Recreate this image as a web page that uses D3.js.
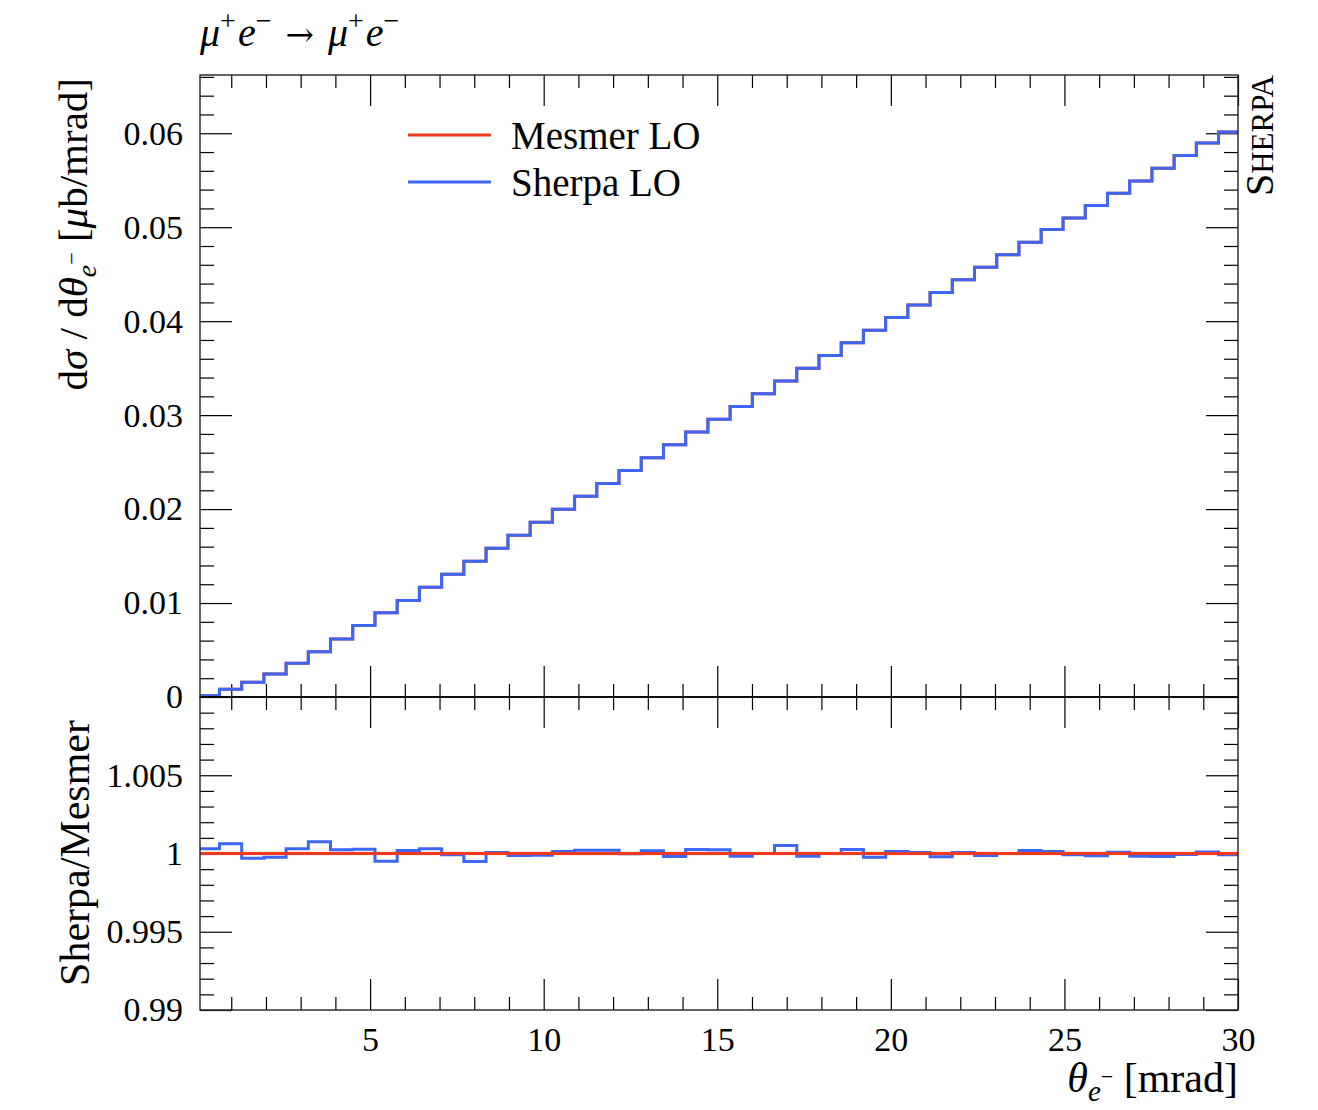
<!DOCTYPE html>
<html>
<head>
<meta charset="utf-8">
<script src="https://cdn.jsdelivr.net/npm/d3@7"></script>
<style>
  body { margin: 0; background: #fff; }
  svg text { font-family: "Liberation Serif", serif; fill: #000; }
  .axis path { display: none; }
  .axis line { stroke: #000; stroke-width: 1.2; }
  .axis text { font-family: "Liberation Serif", serif; font-size: 34px; }
</style>
</head>
<body>
<div id="chart"></div>
<script>
"use strict";

// bin edges in mrad (first and last bins are cut by the plot range)
var binEdges = [0.1, 0.66, 1.30, 1.94, 2.58, 3.22, 3.86, 4.50, 5.14, 5.78, 6.42, 7.06, 7.70,
    8.34, 8.97, 9.61, 10.25, 10.89, 11.53, 12.17, 12.81, 13.45, 14.09, 14.73, 15.37, 16.01,
    16.65, 17.29, 17.93, 18.57, 19.21, 19.85, 20.49, 21.13, 21.77, 22.41, 23.05, 23.69, 24.33,
    24.96, 25.60, 26.24, 26.88, 27.52, 28.16, 28.80, 29.44, 30.0];

var sherpaLO = [0.00014, 0.00082, 0.00156, 0.00245, 0.00358, 0.00482, 0.00617, 0.00762, 0.00897,
    0.01027, 0.01167, 0.01306, 0.01445, 0.01584, 0.01722, 0.0186, 0.01998, 0.02136, 0.02273,
    0.0241, 0.02547, 0.02684, 0.0282, 0.02956, 0.03092, 0.03228, 0.03364, 0.03499, 0.03634,
    0.03769, 0.03904, 0.04038, 0.04172, 0.04306, 0.0444, 0.04574, 0.04707, 0.0484, 0.04975,
    0.05099, 0.05231, 0.05362, 0.05493, 0.05628, 0.05763, 0.05897, 0.06014];

var mesmerLO = [0.00014, 0.00082, 0.00156, 0.00245, 0.00358, 0.00482, 0.00617, 0.00762, 0.00897,
    0.01027, 0.01167, 0.01306, 0.01445, 0.01584, 0.01722, 0.0186, 0.01998, 0.02136, 0.02273,
    0.0241, 0.02547, 0.02684, 0.0282, 0.02956, 0.03092, 0.03228, 0.03364, 0.03499, 0.03634,
    0.03769, 0.03904, 0.04038, 0.04172, 0.04306, 0.0444, 0.04574, 0.04707, 0.0484, 0.04975,
    0.05099, 0.05231, 0.05362, 0.05493, 0.05628, 0.05763, 0.05897, 0.06014];

// Sherpa / Mesmer
var ratio = [1.0003, 1.00062, 0.9997, 0.99976, 1.0003, 1.00075, 1.00024, 1.00027, 0.99951,
    1.00019, 1.0003, 0.99992, 0.99949, 1.00006, 0.99987, 0.99989, 1.00013, 1.0002, 1.0002,
    0.99998, 1.00017, 0.99981, 1.00025, 1.00024, 0.99983, 1.0, 1.00051, 0.99983, 1.0,
    1.00025, 0.99976, 1.00013, 1.00006, 0.99979, 1.00006, 0.99987, 1.0, 1.00019, 1.00013,
    0.99992, 0.99985, 1.00008, 0.99983, 0.99981, 0.99994, 1.0001, 0.99992];

var xMajor = [5, 10, 15, 20, 25, 30];
var xMinor = d3.range(1, 30).filter(function (v) { return v % 5 !== 0; });
var yMainMajor = [0, 0.01, 0.02, 0.03, 0.04, 0.05, 0.06];
var yMainLabels = ["0", "0.01", "0.02", "0.03", "0.04", "0.05", "0.06"];
var yRatioMajor = [0.99, 0.995, 1, 1.005];
var yRatioLabels = ["0.99", "0.995", "1", "1.005"];

var red = "#ee3a1c", blue = "#3d66f5";
var serif = "Liberation Serif, serif";

function renderChart() {
    var svg = d3.select("#chart").append("svg")
        .attr("width", 1318)
        .attr("height", 1110);

    var pLeft = 200, pRight = 1238, pTop = 75, pMid = 697, pBottom = 1010;

    var x = d3.scaleLinear().domain([0.1, 30]).range([pLeft, pRight]);
    var y = d3.scaleLinear().domain([0, 0.0662]).range([pMid, pTop]);
    var yr = d3.scaleLinear().domain([0.99, 1.01]).range([pBottom, pMid]);

    function histPoints(vals) {
        var pts = [];
        vals.forEach(function (v, i) {
            pts.push([binEdges[i], v]);
            pts.push([binEdges[i + 1], v]);
        });
        return pts;
    }

    function addAxis(axis, tx, ty) {
        var g = svg.append("g")
            .attr("class", "axis")
            .attr("transform", "translate(" + tx + "," + ty + ")")
            .call(axis);
        g.attr("font-family", serif).attr("font-size", 34);
        g.selectAll("text").attr("font-family", serif).style("font-family", serif);
    }

    var yMinor = d3.range(0, 0.0661, 0.002).filter(function (v) { return Math.abs(v / 0.01 - Math.round(v / 0.01)) > 1e-6; });
    var yrMinor = d3.range(0.991, 1.0095, 0.001).filter(function (v) { return Math.abs(v / 0.005 - Math.round(v / 0.005)) > 1e-6; });

    // main panel ticks
    addAxis(d3.axisLeft(y).tickValues(yMainMajor).tickSize(-32).tickPadding(17)
        .tickFormat(function (d, i) { return yMainLabels[i]; }), pLeft, 0);
    addAxis(d3.axisLeft(y).tickValues(yMinor).tickSize(-14).tickFormat(""), pLeft, 0);
    addAxis(d3.axisRight(y).tickValues(yMainMajor).tickSize(-32).tickFormat(""), pRight, 0);
    addAxis(d3.axisRight(y).tickValues(yMinor).tickSize(-14).tickFormat(""), pRight, 0);
    addAxis(d3.axisBottom(x).tickValues(xMajor).tickSize(-31).tickFormat(""), 0, pMid);
    addAxis(d3.axisBottom(x).tickValues(xMinor).tickSize(-13).tickFormat(""), 0, pMid);
    addAxis(d3.axisTop(x).tickValues(xMajor).tickSize(-31).tickFormat(""), 0, pTop);
    addAxis(d3.axisTop(x).tickValues(xMinor).tickSize(-13).tickFormat(""), 0, pTop);

    // ratio panel ticks
    addAxis(d3.axisLeft(yr).tickValues(yRatioMajor).tickSize(-32).tickPadding(17)
        .tickFormat(function (d, i) { return yRatioLabels[i]; }), pLeft, 0);
    addAxis(d3.axisLeft(yr).tickValues(yrMinor).tickSize(-14).tickFormat(""), pLeft, 0);
    addAxis(d3.axisRight(yr).tickValues(yRatioMajor).tickSize(-32).tickFormat(""), pRight, 0);
    addAxis(d3.axisRight(yr).tickValues(yrMinor).tickSize(-14).tickFormat(""), pRight, 0);
    addAxis(d3.axisTop(x).tickValues(xMajor).tickSize(-31).tickFormat(""), 0, pMid);
    addAxis(d3.axisTop(x).tickValues(xMinor).tickSize(-13).tickFormat(""), 0, pMid);
    addAxis(d3.axisBottom(x).tickValues(xMajor).tickSize(-31).tickPadding(17), 0, pBottom);
    addAxis(d3.axisBottom(x).tickValues(xMinor).tickSize(-13).tickFormat(""), 0, pBottom);

    // main panel histograms
    var line = d3.line()
        .x(function (d) { return x(d[0]); })
        .y(function (d) { return y(d[1]); });

    svg.append("path")
        .attr("d", line(histPoints(mesmerLO)))
        .attr("fill", "none").attr("stroke", red).attr("stroke-width", 3);
    svg.append("path")
        .attr("d", line(histPoints(sherpaLO)))
        .attr("fill", "none").attr("stroke", blue).attr("stroke-width", 3);

    // ratio panel
    var rline = d3.line()
        .x(function (d) { return x(d[0]); })
        .y(function (d) { return yr(d[1]); });

    svg.append("rect")
        .attr("x", x(0.1)).attr("width", x(30) - x(0.1))
        .attr("y", yr(1.00012)).attr("height", yr(0.99988) - yr(1.00012))
        .attr("fill", red).attr("opacity", 0.25);
    svg.append("path")
        .attr("d", rline(histPoints(ratio)))
        .attr("fill", "none").attr("stroke", blue).attr("stroke-width", 3);
    svg.append("line")
        .attr("x1", x(0.1)).attr("x2", x(30))
        .attr("y1", yr(1)).attr("y2", yr(1))
        .attr("stroke", red).attr("stroke-width", 3);

    // frames
    svg.append("rect")
        .attr("x", pLeft).attr("y", pTop).attr("width", pRight - pLeft).attr("height", pMid - pTop)
        .attr("fill", "none").attr("stroke", "#222").attr("stroke-width", 1.4);
    svg.append("rect")
        .attr("x", pLeft).attr("y", pMid).attr("width", pRight - pLeft).attr("height", pBottom - pMid)
        .attr("fill", "none").attr("stroke", "#222").attr("stroke-width", 1.4);
    svg.append("line")
        .attr("x1", pLeft).attr("x2", pRight).attr("y1", pMid).attr("y2", pMid)
        .attr("stroke", "#000").attr("stroke-width", 1.6);

    // legend
    var legend = [["Mesmer LO", red], ["Sherpa LO", blue]];
    legend.forEach(function (l, i) {
        var ly = 135 + i * 47;
        svg.append("line")
            .attr("x1", 408).attr("x2", 491).attr("y1", ly).attr("y2", ly)
            .attr("stroke", l[1]).attr("stroke-width", 3);
        svg.append("text")
            .attr("x", 511).attr("y", ly + 14)
            .attr("font-size", 39)
            .text(l[0]);
    });

    // title
    var title = svg.append("text").attr("x", 200).attr("y", 46).attr("font-size", 40);
    title.append("tspan").attr("font-style", "italic").text("μ");
    title.append("tspan").attr("font-size", 28).attr("dy", -16).text("+");
    title.append("tspan").attr("font-style", "italic").attr("dy", 16).attr("dx", 2).text("e");
    title.append("tspan").attr("font-size", 28).attr("dy", -16).text("−");
    title.append("tspan").attr("dy", 16).attr("dx", 14).attr("font-family", "DejaVu Serif").attr("font-size", 34).text("→");
    title.append("tspan").attr("font-style", "italic").attr("dx", 14).text("μ");
    title.append("tspan").attr("font-size", 28).attr("dy", -16).text("+");
    title.append("tspan").attr("font-style", "italic").attr("dy", 16).attr("dx", 2).text("e");
    title.append("tspan").attr("font-size", 28).attr("dy", -16).text("−");

    // y label main
    var yl = svg.append("text")
        .attr("transform", "translate(87,78) rotate(-90)")
        .attr("text-anchor", "end")
        .attr("font-size", 41);
    yl.append("tspan").text("d");
    yl.append("tspan").attr("font-style", "italic").text("σ");
    yl.append("tspan").text(" / d");
    yl.append("tspan").attr("font-style", "italic").text("θ");
    yl.append("tspan").attr("font-style", "italic").attr("font-size", 28).attr("dy", 9).text("e");
    yl.append("tspan").attr("font-size", 22).attr("dy", -17).text("−");
    yl.append("tspan").attr("dy", 8).text("  [");
    yl.append("tspan").attr("font-style", "italic").text("μ");
    yl.append("tspan").text("b/mrad]");

    // y label ratio
    svg.append("text")
        .attr("transform", "translate(89,720) rotate(-90)")
        .attr("text-anchor", "end")
        .attr("font-size", 42)
        .text("Sherpa/Mesmer");

    // x label
    var xl = svg.append("text")
        .attr("x", pRight).attr("y", 1092)
        .attr("text-anchor", "end")
        .attr("font-size", 42);
    xl.append("tspan").attr("font-style", "italic").text("θ");
    xl.append("tspan").attr("font-style", "italic").attr("font-size", 29).attr("dy", 9).text("e");
    xl.append("tspan").attr("font-size", 22).attr("dy", -17).text("−");
    xl.append("tspan").attr("dy", 8).text("  [mrad]");

    // generator tag
    var tag = svg.append("text")
        .attr("transform", "translate(1273,75) rotate(-90)")
        .attr("text-anchor", "end")
        .attr("font-size", 40);
    tag.append("tspan").text("S");
    tag.append("tspan").attr("font-size", 31).text("HERPA");
}

renderChart();
</script>
</body>
</html>
